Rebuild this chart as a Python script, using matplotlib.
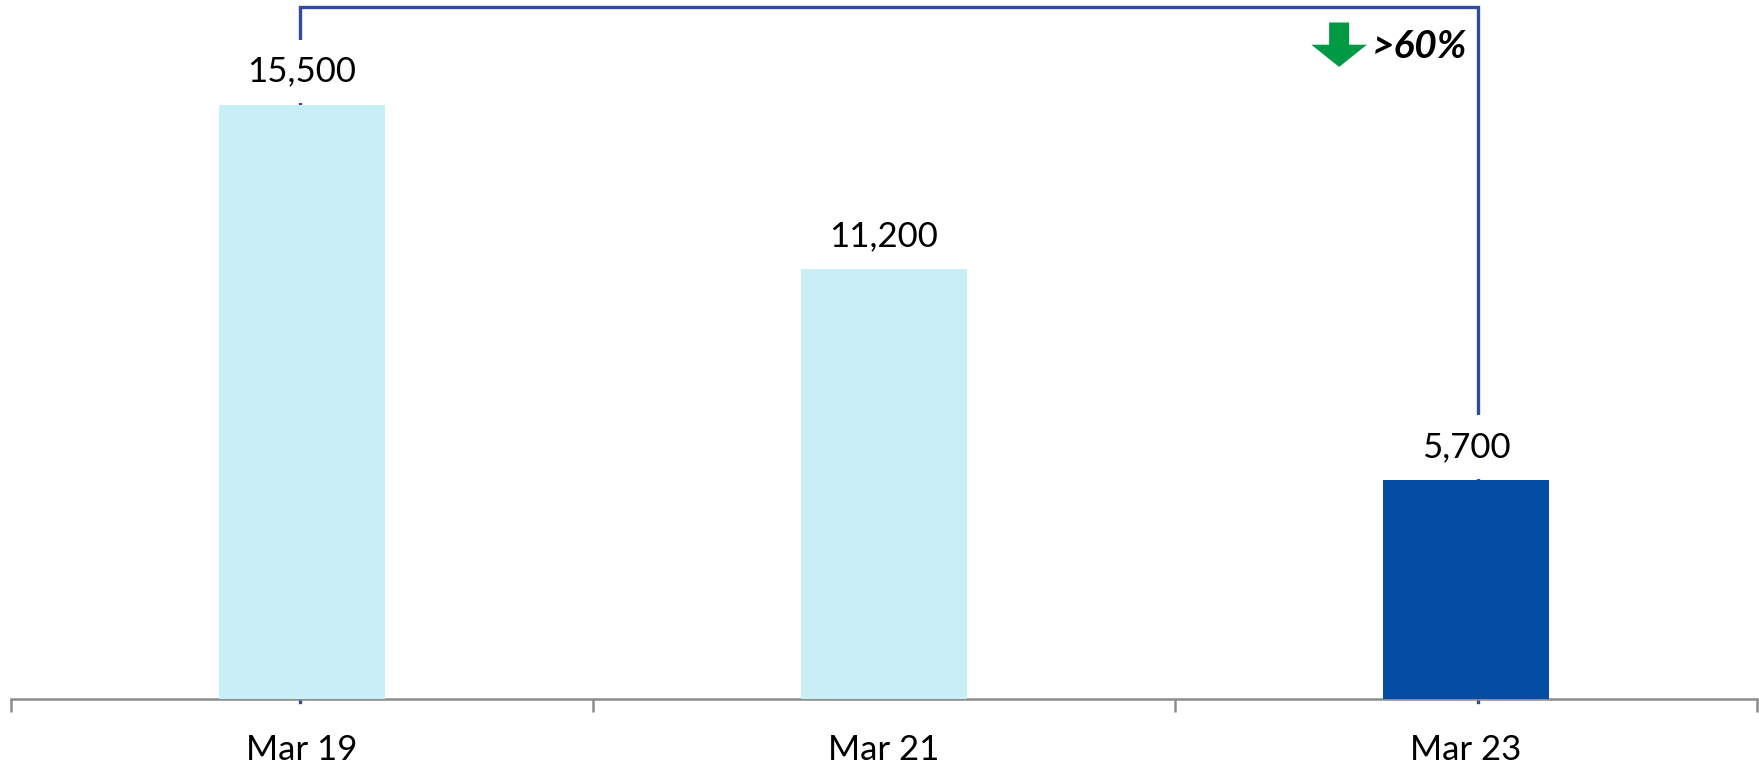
import matplotlib
matplotlib.use('agg')
import matplotlib.pyplot as plt

# data
categories = ["Mar 19", "Mar 21", "Mar 23"]
values = [15500, 11200, 5700]
labels = ["15,500", "11,200", "5,700"]
change_label = ">60%"

light = "#C8EEF6"
dark = "#034EA2"
line_blue = "#2F4C9E"
bar_colors = [light, light, dark]

plt.rcParams['font.family'] = ['Lato', 'DejaVu Sans']

fig = plt.figure(figsize=(17.59, 7.64), dpi=100)
ax = fig.add_axes([11 / 1759, 65 / 764, 1746 / 1759, 699 / 764])

x = list(range(len(categories)))
ax.bar(x, values, width=0.285, color=bar_colors, zorder=3)
ax.set_xlim(-0.5, len(categories) - 0.5)
ax.set_ylim(0, 18225)

# value labels, with a white box so the bracket line passes behind them
for xi, v, lab in zip(x, values, labels):
    ax.annotate(lab, (xi, v), xytext=(0, 24), textcoords="offset points",
                ha="center", va="center", fontsize=25, color="black", zorder=4,
                bbox=dict(boxstyle="square,pad=0.45", fc="white", ec="none"))

# bracket from first to last bar
top = 18050
x0, x1 = x[0] - 0.004, x[-1] + 0.02
ax.plot([x0, x0, x1, x1], [-90, top, top, -90], color=line_blue, lw=2.4,
        zorder=2, solid_joinstyle="miter", clip_on=False)

# green down arrow + change label
arrow_x, arrow_tip = 1.782, 16480
ax.annotate("", xy=(arrow_x, arrow_tip), xytext=(0, 32), textcoords="offset points",
            arrowprops=dict(arrowstyle="simple,head_length=0.8,head_width=2.0,tail_width=0.72",
                            mutation_scale=20, color="#009A44", shrinkA=0, shrinkB=0,
                            lw=0),
            zorder=5)
ax.text(arrow_x + 0.057, 17020, change_label, fontsize=28,
        fontweight="bold", fontstyle="italic", ha="left", va="center", zorder=5)

# axis styling
for s in ["top", "right", "left"]:
    ax.spines[s].set_visible(False)
ax.spines["bottom"].set_color("#8C8C8C")
ax.spines["bottom"].set_linewidth(1.8)
ax.set_yticks([])
ax.set_xticks(x)
ax.set_xticklabels(categories, fontsize=25)
ax.tick_params(axis="x", which="major", length=0, pad=25)
ax.set_xticks([-0.5, 0.5, 1.5, 2.5], minor=True)
ax.tick_params(axis="x", which="minor", length=9, width=1.8, color="#8C8C8C")

fig.savefig("out.png", dpi=100)
